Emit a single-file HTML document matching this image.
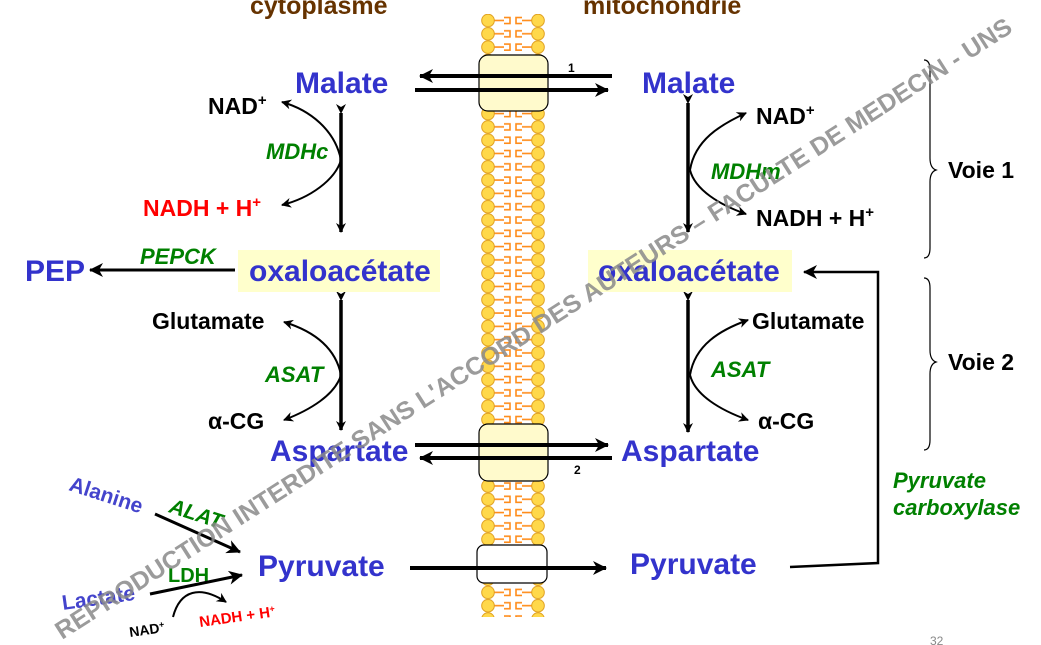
<!DOCTYPE html>
<html><head><meta charset="utf-8"><style>
html,body{margin:0;padding:0;background:#fff;}
svg{display:block;font-family:"Liberation Sans",sans-serif;font-weight:bold;}
.b{fill:#3333cc;font-size:30px;}
.k{fill:#000;font-size:23px;}
.g{fill:#008000;font-size:22px;font-style:italic;}
.r{fill:#ff0000;font-size:23px;}
</style></head><body>
<svg width="1041" height="645" viewBox="0 0 1041 645" xmlns="http://www.w3.org/2000/svg">
<defs>
<pattern id="mem" x="478" y="14" width="70" height="13.3" patternUnits="userSpaceOnUse">
<path d="M16 6.5 h10 M26 3.5 h6 v6 h-6 M54 6.5 h-10 M44 3.5 h-6 v6 h6" stroke="#ff8c1a" stroke-width="1.6" fill="none"/>
<circle cx="10" cy="6.5" r="6.3" fill="#ffd84a" stroke="#e0a020" stroke-width="1"/>
<circle cx="60" cy="6.5" r="6.3" fill="#ffd84a" stroke="#e0a020" stroke-width="1"/>
</pattern>
<marker id="ah" markerWidth="10" markerHeight="10" refX="9" refY="5" orient="auto" markerUnits="userSpaceOnUse"><path d="M0,0 L10,5 L0,10 L3,5z" fill="#000"/></marker>
<marker id="ah2" markerWidth="14" markerHeight="14" refX="13" refY="7" orient="auto" markerUnits="userSpaceOnUse"><path d="M0,0 L14,7 L0,14 L4,7z" fill="#000"/></marker>
</defs>
<text x="250" y="14" fill="#663300" font-size="25">cytoplasme</text>
<text x="583" y="14" fill="#663300" font-size="25">mitochondrie</text>
<rect x="478" y="14" width="70" height="603" fill="url(#mem)"/>
<rect x="479" y="55" width="69" height="56" rx="9" fill="#fffacc" stroke="#000" stroke-width="1.2"/>
<rect x="479" y="424" width="69" height="57" rx="9" fill="#fffacc" stroke="#000" stroke-width="1.2"/>
<rect x="477" y="545" width="70" height="38" rx="7" fill="#fff" stroke="#000" stroke-width="1.2"/>
<g stroke="#000" stroke-width="4" fill="none">
<line x1="612" y1="76" x2="420" y2="76" marker-end="url(#ah2)"/>
<line x1="415" y1="90" x2="608" y2="90" marker-end="url(#ah2)"/>
<line x1="415" y1="445" x2="608" y2="445" marker-end="url(#ah2)"/>
<line x1="612" y1="458" x2="420" y2="458" marker-end="url(#ah2)"/>
<line x1="410" y1="568" x2="606" y2="568" marker-end="url(#ah2)"/>
<line x1="235" y1="270" x2="90" y2="270" stroke-width="3" marker-end="url(#ah2)"/>
</g>
<text x="568" y="72" font-size="12">1</text>
<text x="574" y="474" font-size="12">2</text>
<g stroke="#000" stroke-width="3.5" fill="none">
<line x1="341" y1="113" x2="341" y2="232" marker-start="url(#ah)" marker-end="url(#ah)"/>
<line x1="341" y1="300" x2="341" y2="430" marker-start="url(#ah)" marker-end="url(#ah)"/>
<line x1="688" y1="103" x2="688" y2="232" marker-start="url(#ah)" marker-end="url(#ah)"/>
<line x1="688" y1="300" x2="688" y2="432" marker-start="url(#ah)" marker-end="url(#ah)"/>
</g>
<g stroke="#000" stroke-width="2" fill="none">
<path d="M341 160 C335 130 310 110 282 102" marker-end="url(#ah)"/>
<path d="M341 160 C335 180 310 198 282 205" marker-end="url(#ah)"/>
<path d="M341 375 C335 345 310 330 284 322" marker-end="url(#ah)"/>
<path d="M341 375 C335 395 310 410 284 420" marker-end="url(#ah)"/>
<path d="M690 170 C695 140 720 125 746 113" marker-end="url(#ah)"/>
<path d="M690 170 C695 190 720 205 746 214" marker-end="url(#ah)"/>
<path d="M690 375 C695 345 720 330 748 320" marker-end="url(#ah)"/>
<path d="M690 375 C695 395 720 410 748 420" marker-end="url(#ah)"/>
<path d="M790 567 L878 563 L878 272 L804 272" stroke-width="2.5" marker-end="url(#ah2)"/>
<path d="M924 60 q6 0 6 10 v88 q0 10 6 12 q-6 2 -6 12 v66 q0 10 -6 10" stroke-width="1.2"/>
<path d="M924 278 q6 0 6 10 v62 q0 10 6 12 q-6 2 -6 12 v66 q0 10 -6 10" stroke-width="1.2"/>
</g>
<rect x="238" y="250" width="202" height="42" fill="#ffffcc"/>
<rect x="588" y="250" width="204" height="42" fill="#ffffcc"/>
<text class="b" x="295" y="93">Malate</text>
<text class="b" x="642" y="93">Malate</text>
<text class="b" x="249" y="281">oxaloacétate</text>
<text class="b" x="598" y="281">oxaloacétate</text>
<text class="b" x="25" y="281" font-size="31">PEP</text>
<text class="b" x="270" y="461">Aspartate</text>
<text class="b" x="621" y="461">Aspartate</text>
<text class="b" x="258" y="576">Pyruvate</text>
<text class="b" x="630" y="574">Pyruvate</text>
<text class="k" x="208" y="114">NAD<tspan font-size="15" dy="-9">+</tspan></text>
<text class="r" x="143" y="216">NADH + H<tspan font-size="15" dy="-9">+</tspan></text>
<text class="g" x="266" y="159">MDHc</text>
<text class="g" x="140" y="264">PEPCK</text>
<text class="k" x="152" y="329" font-size="20">Glutamate</text>
<text class="k" x="208" y="429">α-CG</text>
<text class="g" x="265" y="382">ASAT</text>
<text class="k" x="756" y="124">NAD<tspan font-size="15" dy="-9">+</tspan></text>
<text class="k" x="756" y="226">NADH + H<tspan font-size="15" dy="-9">+</tspan></text>
<text class="g" x="711" y="179">MDHm</text>
<text class="k" x="752" y="329" font-size="20">Glutamate</text>
<text class="k" x="758" y="429">α-CG</text>
<text class="g" x="711" y="377">ASAT</text>
<text class="k" x="948" y="178">Voie 1</text>
<text class="k" x="948" y="370">Voie 2</text>
<text class="g" x="893" y="488" font-size="21">Pyruvate</text>
<text class="g" x="893" y="515" font-size="21">carboxylase</text>
<text x="68" y="490" fill="#4444cc" font-size="21" transform="rotate(18 68 490)">Alanine</text>
<text x="168" y="512" fill="#008000" font-size="21" font-style="italic" transform="rotate(18 168 512)">ALAT</text>
<text x="63" y="610" fill="#4444cc" font-size="21" transform="rotate(-8 63 610)">Lactate</text>
<text x="168" y="582" fill="#008000" font-size="20">LDH</text>
<g stroke="#000" stroke-width="3" fill="none">
<line x1="155" y1="514" x2="240" y2="552" marker-end="url(#ah2)"/>
<line x1="150" y1="594" x2="242" y2="575" marker-end="url(#ah2)"/>
<path d="M173 617 C180 590 200 585 226 602" stroke-width="2" marker-end="url(#ah)"/>
</g>
<text x="130" y="637" font-size="14" transform="rotate(-8 130 637)">NAD<tspan font-size="9" dy="-5">+</tspan></text>
<text x="200" y="627" fill="#ff0000" font-size="15" transform="rotate(-8 200 627)">NADH + H<tspan font-size="9" dy="-5">+</tspan></text>
<text x="930" y="645" fill="#888" font-size="12" font-weight="normal">32</text>
<text x="62" y="640" fill="#8a8a8a" fill-opacity="0.85" font-size="25" transform="rotate(-32.6 62 640)" textLength="1130" lengthAdjust="spacingAndGlyphs">REPRODUCTION INTERDITE SANS L'ACCORD DES AUTEURS – FACULTE DE MEDECIN - UNS</text>
</svg>
</body></html>
